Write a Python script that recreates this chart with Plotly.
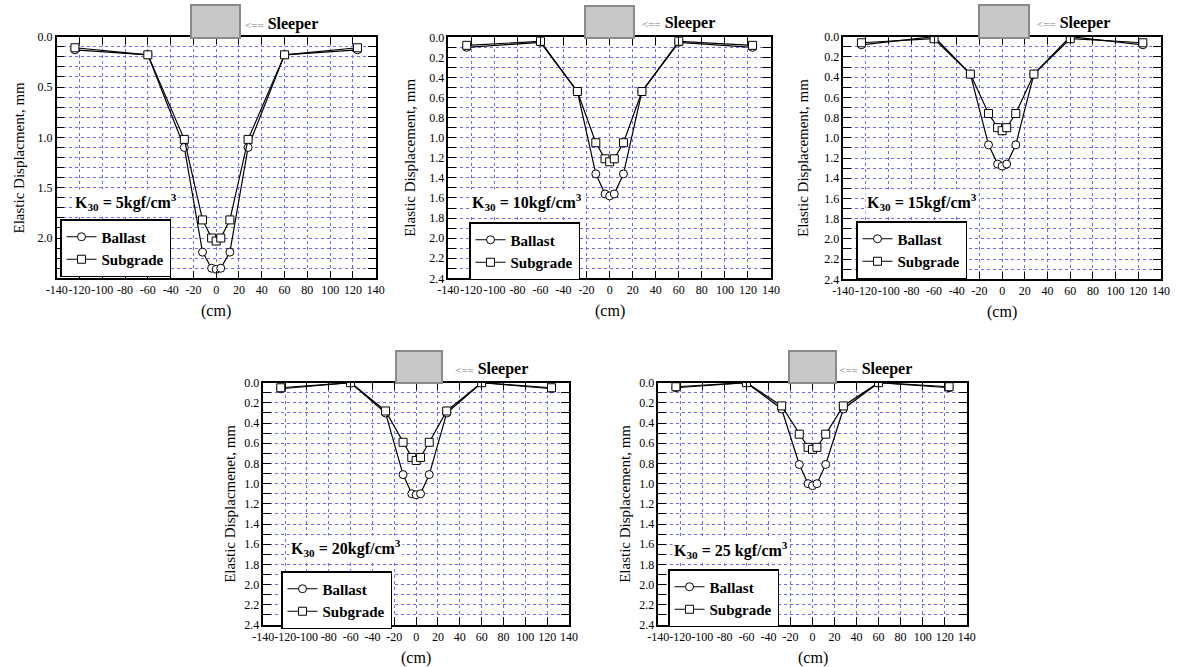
import plotly.graph_objects as go

W, H = 1180, 667

# ---------------- data ----------------
x_cm = [-124, -60, -28, -12, -4, 0, 4, 12, 28, 60, 124]

ballast_k5 = [0.13, 0.18, 1.10, 2.14, 2.30, 2.31, 2.30, 2.14, 1.10, 0.18, 0.13]
subgrade_k5 = [0.11, 0.18, 1.02, 1.82, 2.00, 2.03, 2.00, 1.82, 1.02, 0.18, 0.11]

ballast_k10 = [0.10, 0.05, 0.54, 1.36, 1.56, 1.58, 1.56, 1.36, 0.54, 0.05, 0.10]
subgrade_k10 = [0.08, 0.04, 0.54, 1.05, 1.21, 1.24, 1.21, 1.05, 0.54, 0.04, 0.08]

ballast_k15 = [0.08, 0.00, 0.37, 1.07, 1.26, 1.28, 1.26, 1.07, 0.37, 0.00, 0.08]
subgrade_k15 = [0.06, 0.02, 0.37, 0.76, 0.90, 0.93, 0.90, 0.76, 0.37, 0.02, 0.06]

ballast_k20 = [0.06, 0.00, 0.30, 0.91, 1.10, 1.11, 1.10, 0.91, 0.30, 0.00, 0.06]
subgrade_k20 = [0.05, 0.00, 0.28, 0.59, 0.74, 0.77, 0.74, 0.59, 0.28, 0.00, 0.05]

ballast_k25 = [0.05, 0.00, 0.26, 0.81, 1.00, 1.02, 1.00, 0.81, 0.26, 0.00, 0.05]
subgrade_k25 = [0.04, 0.00, 0.23, 0.51, 0.64, 0.66, 0.64, 0.51, 0.23, 0.00, 0.04]

series_names = ["Ballast", "Subgrade"]
k30_values = ["5kgf/cm", "10kgf/cm", "15kgf/cm", "20kgf/cm", "25 kgf/cm"]
y_titles = ["Elastic Displacment, mm", "Elastic Displacement, mm",
            "Elastic Displacement, mm", "Elastic Displacmenet, mm",
            "Elastic Displacement, mm"]
x_title = "(cm)"
x_tick_labels = ["-140", "-120", "-100", "-80", "-60", "-40", "-20", "0",
                 "20", "40", "60", "80", "100", "120", "140"]
y_tick_step = [0.5, 0.2, 0.2, 0.2, 0.2]
sleeper_label = "Sleeper"

ballast_sets = [ballast_k5, ballast_k10, ballast_k15, ballast_k20, ballast_k25]
subgrade_sets = [subgrade_k5, subgrade_k10, subgrade_k15, subgrade_k20, subgrade_k25]

# ---------------- layout (pixel boxes) ----------------
boxes = [
    (56.7, 375.7, 36.7, 278.3),
    (448.3, 771.0, 37.3, 278.3),
    (843.3, 1161.0, 36.7, 279.3),
    (263.3, 569.0, 382.7, 625.0),
    (658.3, 966.7, 382.7, 625.0),
]
sleeper_boxes = [
    (191, 240, 5, 38),
    (585, 634, 6, 38),
    (979, 1029, 5, 38),
    (396, 442, 351, 383),
    (789, 836, 351, 383),
]
sleeper_text_x = [243, 640, 1035, 453, 837]
sleeper_text_y = [24, 23, 23, 369, 369]
legend_pos = [(60, 219), (469, 222), (856, 221), (281, 571), (668, 569)]
k30_pos = [(73, 202), (470, 202), (865, 202), (289, 548), (672, 550)]
ytitle_x = [18, 410, 803, 230, 625]


def px(xp):
    return xp / W


def py(yp):
    return 1 - yp / H


FONT = "Liberation Serif"
GRID = "#6a6aff"
DASH = "dot"

fig = go.Figure()
shapes = []
annotations = []

for i in range(5):
    x0, x1, y0, y1 = boxes[i]
    n = "" if i == 0 else str(i + 1)
    xa, ya = "xaxis" + n, "yaxis" + n
    leg = "legend" + n
    xr, yr = "x" + n, "y" + n

    fig.add_trace(go.Scatter(
        x=x_cm, y=ballast_sets[i], name="<b>" + series_names[0] + "</b>",
        mode="lines+markers", xaxis=xr, yaxis=yr, legend=leg,
        line=dict(color="black", width=1.2),
        marker=dict(symbol="circle", size=8, color="white",
                    line=dict(color="black", width=1)),
    ))
    fig.add_trace(go.Scatter(
        x=x_cm, y=subgrade_sets[i], name="<b>" + series_names[1] + "</b>",
        mode="lines+markers", xaxis=xr, yaxis=yr, legend=leg,
        line=dict(color="black", width=1.2),
        marker=dict(symbol="square", size=8, color="white",
                    line=dict(color="black", width=1)),
    ))

    fig.layout[xa] = dict(
        domain=[px(x0), px(x1)], anchor=yr, range=[-140, 140],
        tickmode="array", tickvals=[int(t) for t in x_tick_labels],
        ticktext=x_tick_labels, tickangle=0, automargin=False,
        ticks="inside", ticklen=8, tickwidth=1, tickcolor="black",
        showline=True, linecolor="black", linewidth=1.5, mirror="ticks",
        showgrid=True, gridcolor=GRID, griddash=DASH, gridwidth=1,
        zeroline=False,
        tickfont=dict(family=FONT, size=12, color="black"),
    )
    fig.layout[ya] = dict(
        domain=[py(y1), py(y0)], anchor=xr, range=[2.4, 0], automargin=False,
        tickmode="linear", tick0=0, dtick=y_tick_step[i], tickformat=".1f",
        ticks="inside", ticklen=8, tickwidth=1, tickcolor="black",
        showline=True, linecolor="black", linewidth=1.5, mirror="ticks",
        showgrid=True, gridcolor=GRID, griddash=DASH, gridwidth=1,
        zeroline=False,
        minor=dict(tick0=0, dtick=0.1, ticks="inside", ticklen=8, tickwidth=1,
                   tickcolor="black", showgrid=True, gridcolor=GRID,
                   griddash=DASH, gridwidth=1),
        tickfont=dict(family=FONT, size=12, color="black"),
    )

    lx, ly = legend_pos[i]
    fig.layout[leg] = dict(
        x=px(lx), y=py(ly), xanchor="left", yanchor="top",
        xref="paper", yref="paper",
        bgcolor="white", bordercolor="black", borderwidth=1.5,
        font=dict(family=FONT, size=15, color="black"),
        itemwidth=30, tracegroupgap=0,
    )

    # sleeper box
    sx0, sx1, sy0, sy1 = sleeper_boxes[i]
    shapes.append(dict(type="rect", xref="paper", yref="paper",
                       x0=px(sx0), x1=px(sx1), y0=py(sy1), y1=py(sy0),
                       fillcolor="#c8c8c8", line=dict(color="#8a8a8a", width=2)))
    annotations.append(dict(
        xref="paper", yref="paper", x=px(sleeper_text_x[i]), y=py(sleeper_text_y[i]),
        xanchor="left", yanchor="middle", showarrow=False,
        text="<span style='color:#777777;font-size:11px'>&lt;==</span> <b>"
             + sleeper_label + "</b>",
        font=dict(family=FONT, size=16, color="black"),
    ))

    # K30 label
    kx, ky = k30_pos[i]
    annotations.append(dict(
        xref="paper", yref="paper", x=px(kx), y=py(ky),
        xanchor="left", yanchor="middle", showarrow=False,
        text="<b>K<sub>30</sub> = " + k30_values[i] + "<sup>3</sup></b>",
        font=dict(family=FONT, size=16, color="black"),
        bgcolor="white", borderpad=1,
    ))

    # axis titles
    annotations.append(dict(
        xref="paper", yref="paper", x=px((x0 + x1) / 2), y=py(y1 + 33),
        xanchor="center", yanchor="middle", showarrow=False,
        text=x_title, font=dict(family=FONT, size=16, color="black"),
    ))
    annotations.append(dict(
        xref="paper", yref="paper", x=px(ytitle_x[i]), y=py((y0 + y1) / 2),
        xanchor="center", yanchor="middle", showarrow=False, textangle=-90,
        text=y_titles[i], font=dict(family=FONT, size=15, color="black"),
    ))

fig.update_layout(
    width=W, height=H, autosize=False, margin=dict(l=0, r=0, t=0, b=0, pad=0),
    paper_bgcolor="white", plot_bgcolor="white",
    shapes=shapes, annotations=annotations,
    font=dict(family=FONT, color="black"),
)

fig.write_html(
    "out.html",
    config={"displayModeBar": False},
    post_script="document.body.style.margin='0';document.body.style.overflow='hidden';",
)
